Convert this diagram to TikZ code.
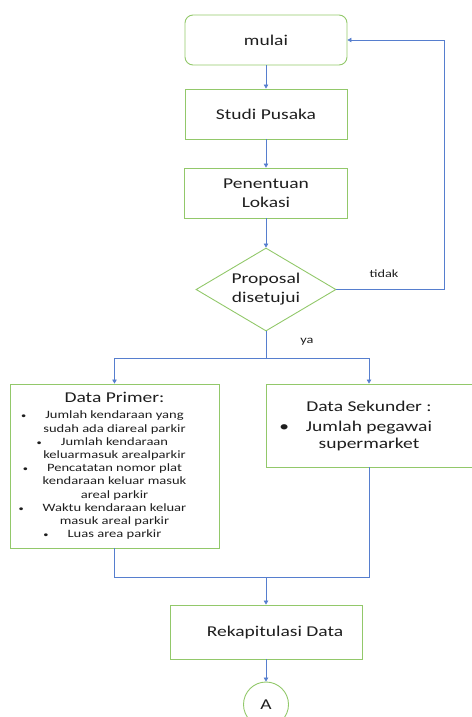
\documentclass[tikz,border=0pt]{standalone}
\usepackage{fontspec}
\setmainfont{Carlito}[FakeStretch=1.3]
\usetikzlibrary{arrows.meta,shapes.geometric,positioning}
\definecolor{hijau}{RGB}{146,200,106}
\definecolor{biru}{RGB}{86,126,206}
\definecolor{teks}{RGB}{30,30,30}
\newcommand{\butir}{\llap{\textbullet\hspace{17pt}}}
\newcommand{\butirkecil}{\llap{{\fontsize{8}{8}\selectfont\textbullet}\hspace{19pt}}}

\begin{document}
\begin{tikzpicture}[x=1pt,y=-1pt,
    kotak/.style={draw=hijau, line width=0.9pt, text=teks, align=center, inner sep=0pt,
        font=\fontsize{15}{19}\selectfont},
    panah/.style={draw=biru, line width=0.8pt, -{Triangle[length=4pt,width=4.5pt]}},
    garis/.style={draw=biru, line width=0.8pt},
    ket/.style={text=teks, font=\fontsize{11}{13}\selectfont}]
    \useasboundingbox (0,0) rectangle (471,717);

    \node[kotak, rounded corners=8pt, minimum width=162pt, minimum height=50pt] (mulai) at (266,40) {mulai};
    \node[kotak, minimum width=162pt, minimum height=50pt] (studi) at (266,114) {Studi Pusaka};
    \node[kotak, minimum width=163pt, minimum height=50pt] (lokasi) at (266,193) {Penentuan\\Lokasi};
    \node[kotak, diamond, aspect=1.7, minimum width=140pt, minimum height=83pt] (proposal) at (266,289.5) {Proposal\\disetujui};

    \node[kotak, font=\fontsize{11.2}{13.2}\selectfont, minimum width=209pt, minimum height=164pt] (primer) at (114.5,466)
        {{\fontsize{15}{18}\selectfont Data Primer:}\\[3pt]
         \butirkecil Jumlah kendaraan yang\\ sudah ada diareal parkir\\
         \butirkecil Jumlah kendaraan\\ keluarmasuk arealparkir\\
         \butirkecil Pencatatan nomor plat\\ kendaraan keluar masuk\\ areal parkir\\
         \butirkecil Waktu kendaraan keluar\\ masuk areal parkir\\
         \butirkecil Luas area parkir};
    \node[kotak, font=\fontsize{15}{17}\selectfont, minimum width=206pt, minimum height=83pt] (sekunder) at (369,425.5)
        {Data Sekunder :\\[3pt]
         \butir Jumlah pegawai\\ supermarket};

    \node[kotak, minimum width=192pt, minimum height=54pt] (rekap) at (266,632) {\hspace{18pt}Rekapitulasi Data};
    \node[kotak, circle, minimum size=45pt] (A) at (266,704.5) {A};

    \coordinate (balik) at (444,289.5);
    \coordinate (cabang) at (266,358);
    \coordinate (gabung) at (266,577);

    \draw[panah] (mulai) -- (studi);
    \draw[panah] (studi) -- (lokasi);
    \draw[panah] (lokasi) -- (proposal);
    \draw[panah] (proposal.east) -- (balik) |- (mulai.east);
    \node[ket] (tidak) at (384,274) {tidak};
    \draw[garis] (proposal.south) -- (cabang);
    \node[ket] (ya) at (307,342) {ya};
    \draw[panah] (cabang) -| (primer.north);
    \draw[panah] (cabang) -| (sekunder.north);
    \draw[garis] (primer.south) |- (gabung);
    \draw[garis] (sekunder.south) |- (gabung);
    \draw[panah] (gabung) -- (rekap);
    \draw[panah] (rekap) -- (A);
\end{tikzpicture}
\end{document}
